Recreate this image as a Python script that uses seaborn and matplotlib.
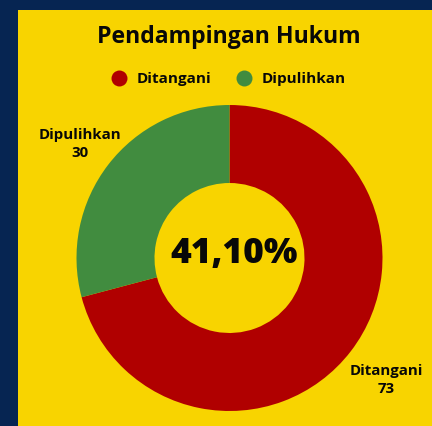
import matplotlib

matplotlib.use("Agg")

import matplotlib.pyplot as plt
import seaborn as sns
from matplotlib.lines import Line2D
from matplotlib.patches import Rectangle

labels = ["Ditangani", "Dipulihkan"]
values = [73, 30]
center_text = "41,10%"
title = "Pendampingan Hukum"

NAVY = "#062552"
YELLOW = "#F8D400"
COLORS = ["#B00000", "#418C3F"]
INK = "#080808"
FONT = "Open Sans"

sns.set_style("white")
plt.rcParams["font.family"] = [FONT, "DejaVu Sans"]

fig = plt.figure(figsize=(4.32, 4.26), dpi=100, facecolor=NAVY)
ax = fig.add_axes([0, 0, 1, 1])
ax.set_xlim(0, 432)
ax.set_ylim(0, 426)
ax.set_aspect("equal")
ax.axis("off")

# yellow card, cut off on the right and bottom
ax.add_patch(Rectangle((18, 0), 420, 416, facecolor=YELLOW, edgecolor="none", zorder=0))

wedges, _ = ax.pie(
    values,
    colors=COLORS,
    startangle=90,
    counterclock=False,
    center=(229.5, 168),
    radius=153,
    wedgeprops=dict(width=78, edgecolor="none"),
)
ax.set_xlim(0, 432)
ax.set_ylim(0, 426)

ax.text(229, 389, title, ha="center", va="center", fontsize=16.6, fontweight="bold", color=INK)
ax.text(234, 172, center_text, ha="center", va="center", fontsize=25.5, fontweight="heavy", color=INK)

ax.text(80, 282, f"{labels[1]}\n{values[1]}", ha="center", va="center", fontsize=10.8,
        fontweight="bold", color=INK, linespacing=1.35)
ax.text(386, 46, f"{labels[0]}\n{values[0]}", ha="center", va="center", fontsize=10.8,
        fontweight="bold", color=INK, linespacing=1.35)

handles = [
    Line2D([0], [0], marker="o", linestyle="none", markersize=11.5, markerfacecolor=c,
           markeredgecolor="none")
    for c in COLORS
]
leg = ax.legend(handles, labels, loc="center", bbox_to_anchor=(225 / 432, 347 / 426),
                ncol=2, frameon=False, handletextpad=0.15, columnspacing=1.15,
                prop={"weight": "bold", "size": 11, "family": [FONT, "DejaVu Sans"]})
for t in leg.get_texts():
    t.set_color(INK)

fig.savefig("out.png", dpi=100, facecolor=NAVY)
